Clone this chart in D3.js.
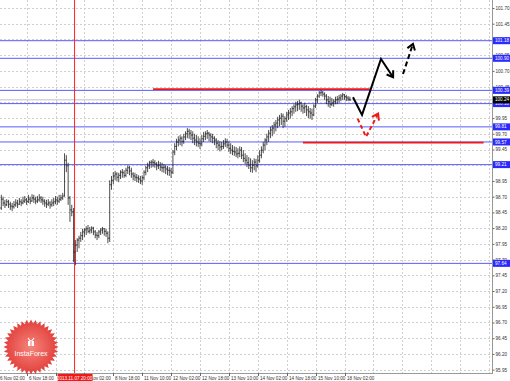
<!DOCTYPE html>
<html>
<head>
<meta charset="utf-8">
<script src="https://cdn.jsdelivr.net/npm/d3@7"></script>
<style>
body { margin: 0; background: #fff; }
svg { display: block; }
text { font-family: "Liberation Sans", Arial, sans-serif; }
</style>
</head>
<body>
<svg id="chart" width="510" height="381"></svg>
<script>
// hourly bars, one entry per hour starting 6 Nov 02:00 (weekend skipped)
const highs = [
  98.57, 98.58, 98.73, 98.70, 98.65, 98.66, 98.65, 98.62, 98.60, 98.63,
  98.66, 98.65, 98.68, 98.66, 98.70, 98.71, 98.68, 98.73, 98.70, 98.74,
  98.73, 98.70, 98.71, 98.74, 98.71, 98.70, 98.66, 98.65, 98.66, 98.63,
  98.66, 98.68, 98.71, 98.70, 98.73, 98.73, 98.76, 99.39, 99.36, 99.24,
  98.71, 98.57, 98.52, 98.01, 98.04, 98.08, 98.14, 98.19, 98.20, 98.23,
  98.25, 98.22, 98.23, 98.22, 98.17, 98.14, 98.17, 98.20, 98.22, 98.20,
  98.19, 98.15, 98.96, 99.03, 99.09, 99.11, 99.09, 99.08, 99.12, 99.14,
  99.12, 99.16, 99.20, 99.19, 99.16, 99.09, 99.08, 99.06, 99.04, 99.03,
  99.04, 99.12, 99.19, 99.24, 99.27, 99.28, 99.30, 99.28, 99.25, 99.27,
  99.25, 99.24, 99.22, 99.20, 99.19, 99.17, 99.16, 99.44, 99.55, 99.62,
  99.66, 99.68, 99.66, 99.70, 99.74, 99.79, 99.78, 99.76, 99.74, 99.70,
  99.68, 99.66, 99.63, 99.68, 99.73, 99.74, 99.76, 99.73, 99.71, 99.70,
  99.66, 99.63, 99.60, 99.58, 99.57, 99.60, 99.63, 99.62, 99.58, 99.55,
  99.52, 99.50, 99.49, 99.47, 99.50, 99.49, 99.44, 99.39, 99.36, 99.33,
  99.31, 99.28, 99.31, 99.30, 99.36, 99.44, 99.50, 99.57, 99.63, 99.70,
  99.76, 99.81, 99.84, 99.89, 99.92, 99.97, 100.00, 100.03, 100.02, 99.98,
  100.05, 100.08, 100.11, 100.14, 100.17, 100.21, 100.22, 100.24, 100.21, 100.17,
  100.19, 100.16, 100.14, 100.11, 100.10, 100.17, 100.27, 100.33, 100.38, 100.40,
  100.38, 100.36, 100.33, 100.30, 100.29, 100.27, 100.25, 100.29, 100.30, 100.32,
  100.33, 100.35, 100.33, 100.32, 100.30, 100.29
];
const lows = [
  98.43, 98.44, 98.49, 98.55, 98.52, 98.55, 98.52, 98.49, 98.47, 98.51,
  98.54, 98.52, 98.57, 98.55, 98.58, 98.60, 98.57, 98.60, 98.58, 98.62,
  98.60, 98.58, 98.60, 98.62, 98.60, 98.57, 98.54, 98.52, 98.55, 98.51,
  98.54, 98.55, 98.58, 98.57, 98.60, 98.63, 98.65, 98.70, 99.09, 98.57,
  98.30, 98.39, 97.66, 97.61, 97.82, 97.88, 97.98, 98.01, 98.06, 98.09,
  98.12, 98.11, 98.12, 98.09, 98.04, 98.01, 98.04, 98.09, 98.11, 98.08,
  98.06, 97.96, 97.98, 98.81, 98.90, 98.96, 98.95, 98.93, 98.98, 99.00,
  99.00, 99.01, 99.06, 99.04, 99.00, 98.96, 98.95, 98.93, 98.92, 98.90,
  98.89, 98.96, 99.04, 99.09, 99.14, 99.16, 99.17, 99.16, 99.12, 99.14,
  99.11, 99.09, 99.08, 99.06, 99.04, 99.03, 99.00, 99.06, 99.36, 99.44,
  99.50, 99.52, 99.50, 99.54, 99.60, 99.63, 99.62, 99.60, 99.55, 99.52,
  99.50, 99.49, 99.46, 99.50, 99.57, 99.60, 99.62, 99.58, 99.57, 99.55,
  99.52, 99.47, 99.44, 99.42, 99.44, 99.46, 99.49, 99.47, 99.41, 99.38,
  99.36, 99.35, 99.33, 99.31, 99.33, 99.30, 99.25, 99.22, 99.17, 99.14,
  99.09, 99.08, 99.12, 99.09, 99.16, 99.24, 99.31, 99.39, 99.44, 99.52,
  99.57, 99.63, 99.66, 99.70, 99.74, 99.79, 99.82, 99.84, 99.79, 99.81,
  99.89, 99.92, 99.94, 99.98, 100.02, 100.05, 100.06, 100.08, 100.05, 100.02,
  100.03, 99.98, 99.95, 99.94, 99.92, 99.98, 100.11, 100.19, 100.27, 100.30,
  100.29, 100.24, 100.17, 100.13, 100.11, 100.14, 100.13, 100.17, 100.17, 100.19,
  100.22, 100.24, 100.24, 100.22, 100.22, 100.22
];
const closes = [
  98.49, 98.52, 98.66, 98.60, 98.57, 98.62, 98.58, 98.55, 98.54, 98.57,
  98.60, 98.58, 98.62, 98.60, 98.63, 98.65, 98.62, 98.66, 98.63, 98.68,
  98.66, 98.63, 98.65, 98.68, 98.65, 98.63, 98.60, 98.58, 98.60, 98.57,
  98.60, 98.62, 98.65, 98.63, 98.66, 98.68, 98.71, 99.28, 99.19, 98.68,
  98.49, 98.46, 97.82, 97.93, 98.01, 98.04, 98.08, 98.14, 98.17, 98.19,
  98.15, 98.17, 98.20, 98.14, 98.09, 98.08, 98.14, 98.17, 98.19, 98.15,
  98.12, 98.04, 98.89, 98.96, 99.03, 99.06, 99.01, 99.04, 99.09, 99.08,
  99.04, 99.12, 99.16, 99.11, 99.06, 99.03, 99.01, 99.00, 98.98, 98.95,
  99.00, 99.09, 99.16, 99.19, 99.24, 99.25, 99.24, 99.22, 99.19, 99.20,
  99.17, 99.16, 99.17, 99.14, 99.12, 99.11, 99.09, 99.41, 99.50, 99.57,
  99.60, 99.63, 99.58, 99.65, 99.70, 99.74, 99.71, 99.68, 99.63, 99.60,
  99.57, 99.55, 99.54, 99.62, 99.66, 99.70, 99.71, 99.68, 99.65, 99.63,
  99.60, 99.55, 99.52, 99.49, 99.50, 99.54, 99.57, 99.52, 99.47, 99.44,
  99.42, 99.41, 99.38, 99.39, 99.44, 99.36, 99.31, 99.28, 99.24, 99.20,
  99.16, 99.20, 99.25, 99.19, 99.28, 99.36, 99.44, 99.52, 99.60, 99.65,
  99.71, 99.76, 99.79, 99.84, 99.87, 99.92, 99.95, 99.98, 99.90, 99.94,
  100.00, 100.03, 100.05, 100.10, 100.13, 100.16, 100.17, 100.19, 100.14, 100.11,
  100.13, 100.08, 100.05, 100.03, 100.00, 100.14, 100.24, 100.30, 100.35, 100.36,
  100.33, 100.30, 100.24, 100.21, 100.17, 100.19, 100.21, 100.24, 100.25, 100.27,
  100.30, 100.32, 100.29, 100.27, 100.25, 100.24
];

const timeLabels = ["6 Nov 02:00", "6 Nov 18:00", "7 Nov 10:00", "8 Nov 02:00", "8 Nov 18:00",
  "11 Nov 10:00", "12 Nov 02:00", "12 Nov 18:00", "13 Nov 10:00", "14 Nov 02:00",
  "14 Nov 18:00", "15 Nov 10:00", "18 Nov 02:00"];
const priceTicks = [101.70, 101.45, 101.20, 100.95, 100.70, 100.45, 100.20, 99.95, 99.70, 99.45,
  99.20, 98.95, 98.70, 98.45, 98.20, 97.95, 97.70, 97.45, 97.20, 96.95, 96.70, 96.45, 96.20, 95.95];
const blueLevels = [101.18, 100.90, 100.39, 100.18, 99.81, 99.57, 99.21, 97.64];
const redLevels = [
  { from: 86, to: 206, price: 100.41 },
  { from: 169, to: 269, price: 99.56 }
];
const cursorBar = 42;
const cursorLabel = "2013.11.07 20:00";
// forecast arrows: [bar, price]
const arrowSolid = [[196.7, 100.28], [201.7, 100.00], [212.2, 100.89], [218.9, 100.60]];
const arrowDashed = [[224.4, 100.65], [229.9, 101.13]];
const arrowRed = [[199.3, 99.94], [203.9, 99.65], [210.6, 100.02]];

const svg = d3.select("#chart");
const plotW = 492, plotH = 373;

const x = d3.scaleLinear().domain([0, 16]).range([-2.3, 26.6]);
const y = d3.scaleLinear().domain([95.897, 101.827]).range([plotH, 0]);

svg.append("rect").attr("width", 510).attr("height", 381).attr("fill", "#fff");

const defs = svg.append("defs");
defs.append("clipPath").attr("id", "plot")
  .append("rect").attr("width", plotW).attr("height", plotH);

const plot = svg.append("g").attr("clip-path", "url(#plot)");

// grid
const gridX = d3.range(0, 280, 16);
plot.append("g").selectAll("line").data(gridX).join("line")
  .attr("x1", d => Math.round(x(d)) + 0.5).attr("x2", d => Math.round(x(d)) + 0.5)
  .attr("y1", 0).attr("y2", plotH)
  .attr("stroke", "#cfcfcf").attr("stroke-dasharray", "2,2");
plot.append("g").selectAll("line").data(priceTicks).join("line")
  .attr("x1", 0).attr("x2", plotW)
  .attr("y1", d => Math.round(y(d)) + 0.5).attr("y2", d => Math.round(y(d)) + 0.5)
  .attr("stroke", "#cfcfcf").attr("stroke-dasharray", "2,2");

// levels
plot.append("g").selectAll("line").data(blueLevels).join("line")
  .attr("x1", 0).attr("x2", plotW)
  .attr("y1", d => y(d)).attr("y2", d => y(d))
  .attr("stroke", "#5a5aff").attr("stroke-width", 1);

// bid line
const last = closes.length - 1;
plot.append("line")
  .attr("x1", 0).attr("x2", plotW)
  .attr("y1", y(closes[last])).attr("y2", y(closes[last]))
  .attr("stroke", "#c0c0c0");

// cursor
plot.append("line")
  .attr("x1", x(cursorBar) + 1).attr("x2", x(cursorBar) + 1)
  .attr("y1", 0).attr("y2", plotH)
  .attr("stroke", "#ff2020").attr("stroke-width", 1);

// bars
const bars = plot.append("g").attr("stroke", "#111").attr("stroke-width", 0.75);
closes.forEach((c, i) => {
  const o = i > 0 ? closes[i - 1] : c;
  const cx = x(i);
  bars.append("line").attr("x1", cx).attr("x2", cx).attr("y1", y(highs[i])).attr("y2", y(lows[i]));
  bars.append("line").attr("x1", cx - 0.9).attr("x2", cx).attr("y1", y(o)).attr("y2", y(o));
  bars.append("line").attr("x1", cx).attr("x2", cx + 0.9).attr("y1", y(c)).attr("y2", y(c));
});

// red levels
plot.append("g").selectAll("line").data(redLevels).join("line")
  .attr("x1", d => x(d.from)).attr("x2", d => x(d.to))
  .attr("y1", d => y(d.price)).attr("y2", d => y(d.price))
  .attr("stroke", "#f01818").attr("stroke-width", 1.6);

// arrows
const line = d3.line().x(d => x(d[0])).y(d => y(d[1]));
function arrowHead(pts, len) {
  const a = pts[pts.length - 2], b = pts[pts.length - 1];
  const bx = x(b[0]), by = y(b[1]);
  const ang = Math.atan2(y(a[1]) - by, x(a[0]) - bx);
  const p1 = [bx + len * Math.cos(ang + 0.6), by + len * Math.sin(ang + 0.6)];
  const p2 = [bx + len * Math.cos(ang - 0.6), by + len * Math.sin(ang - 0.6)];
  return `M${p1}L${bx},${by}L${p2}`;
}
function drawArrow(pts, color, dash) {
  plot.append("path").attr("d", line(pts)).attr("fill", "none")
    .attr("stroke", color).attr("stroke-width", 2)
    .attr("stroke-dasharray", dash);
  plot.append("path").attr("d", arrowHead(pts, 7)).attr("fill", "none")
    .attr("stroke", color).attr("stroke-width", 2);
}
drawArrow(arrowSolid, "#000", null);
drawArrow(arrowDashed, "#000", "5,3");
drawArrow(arrowRed, "#f01818", "4,3");

// axes frame
svg.append("line").attr("x1", plotW + 0.5).attr("x2", plotW + 0.5).attr("y1", 0).attr("y2", plotH + 1)
  .attr("stroke", "#999");
svg.append("line").attr("x1", 0).attr("x2", plotW + 1).attr("y1", plotH + 0.5).attr("y2", plotH + 0.5)
  .attr("stroke", "#999");

// right axis
const yAxis = svg.append("g").attr("transform", `translate(${plotW + 0.5},0)`)
  .call(d3.axisRight(y).tickValues(priceTicks).tickFormat(d3.format(".2f")).tickSize(2).tickPadding(1));
yAxis.select(".domain").remove();
yAxis.selectAll("line").attr("stroke", "#666");
yAxis.selectAll("text").attr("font-size", 4.6).attr("fill", "#333");

// level boxes
const boxes = svg.append("g");
blueLevels.forEach(v => {
  boxes.append("rect").attr("x", plotW + 1).attr("y", y(v) - 3.5).attr("width", 17).attr("height", 7)
    .attr("fill", "#2a2aff");
  boxes.append("text").attr("x", plotW + 3).attr("y", y(v) + 1.6).text(d3.format(".2f")(v))
    .attr("font-size", 4.6).attr("fill", "#fff");
});
boxes.append("rect").attr("x", plotW + 1).attr("y", y(closes[last]) - 3.5).attr("width", 17).attr("height", 7)
  .attr("fill", "#000");
boxes.append("text").attr("x", plotW + 3).attr("y", y(closes[last]) + 1.6).text(d3.format(".2f")(closes[last]))
  .attr("font-size", 4.6).attr("fill", "#fff");

// bottom axis
const xAxis = svg.append("g");
timeLabels.forEach((t, k) => {
  const tx = Math.round(x(k * 16)) + 0.5;
  xAxis.append("line").attr("x1", tx).attr("x2", tx).attr("y1", plotH).attr("y2", plotH + 3).attr("stroke", "#666");
  xAxis.append("text").attr("x", tx + 1.5).attr("y", 379.5).text(t)
    .attr("font-size", 4.6).attr("fill", "#333");
});
const cx0 = x(cursorBar) + 1;
xAxis.append("rect").attr("x", cx0 - 17).attr("y", plotH + 1).attr("width", 35).attr("height", 7).attr("fill", "#f01818");
xAxis.append("text").attr("x", cx0).attr("y", 379.5).attr("text-anchor", "middle").text(cursorLabel)
  .attr("font-size", 4.6).attr("fill", "#fff");

// InstaForex badge
const logo = svg.append("g").attr("transform", "translate(31,347)");
const grad = defs.append("radialGradient").attr("id", "lg");
grad.append("stop").attr("offset", "0%").attr("stop-color", "#f57a70");
grad.append("stop").attr("offset", "100%").attr("stop-color", "#df2e2a");
const teeth = 36;
const star = d3.range(teeth * 2).map(k => {
  const r = k % 2 ? 23.5 : 27.5;
  const a = k * Math.PI / teeth;
  return [r * Math.sin(a), -r * Math.cos(a)];
});
logo.append("path").attr("d", d3.line()(star) + "Z").attr("fill", "url(#lg)").attr("opacity", 0.92);
logo.append("text").attr("y", 9).attr("text-anchor", "middle").text("InstaForex")
  .attr("font-size", 7).attr("fill", "#fff");
const icon = logo.append("g").attr("transform", "translate(0,-5)").attr("fill", "none")
  .attr("stroke", "#fff").attr("stroke-width", 1.2);
icon.append("rect").attr("x", -3).attr("y", -1).attr("width", 6).attr("height", 5).attr("fill", "#fff").attr("stroke", "none");
icon.append("path").attr("d", "M-3,-4 Q-1,-1 0,-1 Q1,-1 3,-4");
icon.append("line").attr("x1", 0).attr("x2", 0).attr("y1", -1).attr("y2", 4).attr("stroke", "#e94b45").attr("stroke-width", 0.8);
</script>
</body>
</html>
